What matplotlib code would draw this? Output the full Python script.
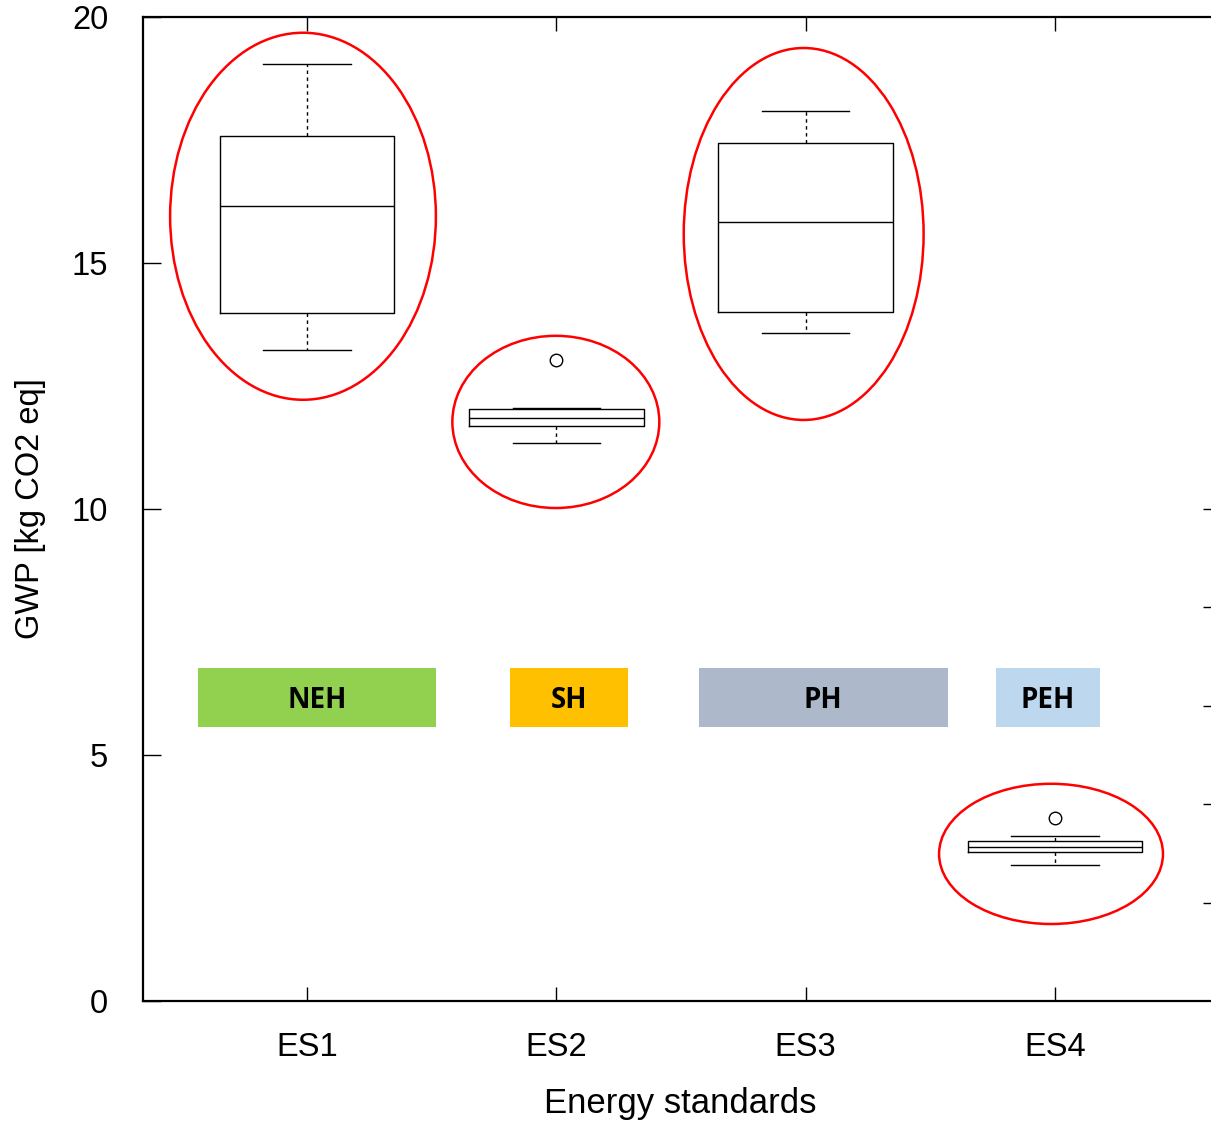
import matplotlib
matplotlib.use("Agg")
import matplotlib.pyplot as plt
from matplotlib.patches import Ellipse, Rectangle

plt.rcParams['font.family'] = ['Liberation Sans', 'DejaVu Sans']

# ---- data ----
categories = ["ES1", "ES2", "ES3", "ES4"]
whislo = [13.23, 11.34, 13.58, 2.76]
q1 = [13.98, 11.69, 14.00, 3.03]
med = [16.16, 11.85, 15.83, 3.13]
q3 = [17.58, 12.03, 17.44, 3.25]
whishi = [19.05, 12.05, 18.09, 3.35]
fliers = [[], [13.03], [], [3.72]]

# highlight ellipses (centre x, centre y, width, height) in data units
ell_x = [0.984, 1.998, 2.992, 3.984]
ell_y = [15.95, 11.77, 15.59, 2.99]
ell_w = [1.066, 0.83, 0.962, 0.898]
ell_h = [7.46, 3.50, 7.56, 2.85]

# coloured labels
tag_labels = ["NEH", "SH", "PH", "PEH"]
tag_x0 = [0.563, 1.816, 2.571, 3.764]
tag_x1 = [1.517, 2.289, 3.569, 4.180]
tag_y0 = 5.57
tag_y1 = 6.77
tag_colors = ["#92D050", "#FFC000", "#ADB9CA", "#BDD7EE"]

right_ticks = [2, 4, 6, 8, 10]
left_ticks = [0, 5, 10, 15, 20]

# ---- figure ----
fig = plt.figure(figsize=(12.11, 11.24), dpi=100)
ax = fig.add_axes([143/1211, 1 - 1001/1124, 1 - 143/1211, (1001 - 17)/1124])

positions = list(range(1, len(categories) + 1))
stats = []
for i in range(len(categories)):
    stats.append(dict(med=med[i], q1=q1[i], q3=q3[i], whislo=whislo[i],
                      whishi=whishi[i], fliers=fliers[i], label=categories[i]))

ax.bxp(stats, positions=positions, widths=0.70, showfliers=True,
       boxprops=dict(color='black', linewidth=1.0),
       medianprops=dict(color='black', linewidth=1.0),
       whiskerprops=dict(color='black', linewidth=1.0, linestyle=(0, (2.5, 2.5))),
       capprops=dict(color='black', linewidth=1.0),
       capwidths=0.35,
       flierprops=dict(marker='o', markersize=9, markerfacecolor='none',
                       markeredgecolor='black', markeredgewidth=1.0))

for cx, cy, w, h in zip(ell_x, ell_y, ell_w, ell_h):
    ax.add_patch(Ellipse((cx, cy), w, h, fill=False, edgecolor='#FF0000', linewidth=1.8, zorder=3))

for lab, x0, x1, c in zip(tag_labels, tag_x0, tag_x1, tag_colors):
    ax.add_patch(Rectangle((x0, tag_y0), x1 - x0, tag_y1 - tag_y0, facecolor=c,
                           edgecolor='none', zorder=2))
    ax.text((x0 + x1) / 2, (tag_y0 + tag_y1) / 2 - 0.06, lab, ha='center', va='center',
            fontsize=20, fontweight='bold', family=['Open Sans', 'DejaVu Sans'], zorder=4)

ax.set_xlim(0.3423, 4.6256)
ax.set_ylim(0, 20)
ax.set_xticks(positions)
ax.set_xticklabels(categories)
ax.set_yticks(left_ticks)

for s in ['left', 'bottom', 'top']:
    ax.spines[s].set_linewidth(1.6)
ax.spines['right'].set_visible(False)

ax.tick_params(axis='x', direction='in', top=True, bottom=True, length=10, width=1.0,
               labelsize=23.5, pad=22)
ax.tick_params(axis='y', direction='in', left=True, right=False, length=13, width=1.0,
               labelsize=23.5, pad=25)

ax.set_xlabel("Energy standards", fontsize=25, va='center')
ax.xaxis.set_label_coords(0.503, -(1104 - 1001) / 984)
ax.set_ylabel("GWP [kg CO2 eq]", fontsize=23.5, va='center')
ax.yaxis.set_label_coords(-(143 - 31) / 1068, 0.5)

ax2 = ax.twinx()
ax2.set_ylim(0, 20)
ax2.set_yticks(right_ticks)
ax2.set_yticklabels([])
for s in ax2.spines.values():
    s.set_visible(False)
ax2.tick_params(axis='y', direction='in', right=True, length=6, width=1.0)

fig.savefig("out.png", dpi=100)
